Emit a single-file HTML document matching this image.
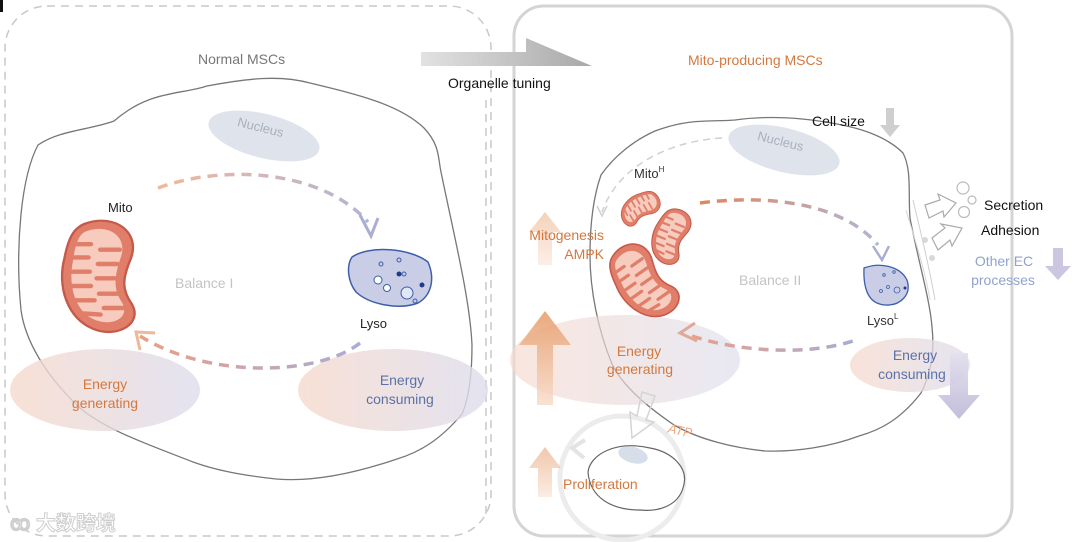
<!DOCTYPE html>
<html><head><meta charset="utf-8"><style>
html,body{margin:0;padding:0;background:#fff;width:1080px;height:542px;overflow:hidden}
text{font-family:"Liberation Sans","Noto Sans CJK SC",sans-serif}
</style></head><body>
<svg width="1080" height="542" viewBox="0 0 1080 542" xmlns="http://www.w3.org/2000/svg">
<defs>
<linearGradient id="eg" x1="0" x2="1"><stop offset="0" stop-color="#f6d9cc"/><stop offset="1" stop-color="#dcdcec"/></linearGradient>
<linearGradient id="ar" x1="0" x2="1"><stop offset="0" stop-color="#e2e2e2"/><stop offset="1" stop-color="#a8a8a8"/></linearGradient>
<linearGradient id="ou" x1="0" y1="0" x2="0" y2="1"><stop offset="0" stop-color="#e69a66"/><stop offset="1" stop-color="#f8dccb"/></linearGradient>
<linearGradient id="pd" x1="0" y1="0" x2="0" y2="1"><stop offset="0" stop-color="#e4e0ee"/><stop offset="1" stop-color="#bcb6d6"/></linearGradient>
<linearGradient id="dash1" x1="0" x2="1"><stop offset="0" stop-color="#f0b89a"/><stop offset="1" stop-color="#b4b4d6"/></linearGradient>
<linearGradient id="dash2" x1="0" x2="1"><stop offset="0" stop-color="#e8a088"/><stop offset="1" stop-color="#a8acd4"/></linearGradient>
<linearGradient id="dash3" x1="0" x2="1"><stop offset="0" stop-color="#e0875a"/><stop offset="1" stop-color="#b4b4d6"/></linearGradient>
<g id="mito">
<path d="M20,3 C45,-6 66,12 57,36 C51,52 49,62 58,76 C68,94 46,108 26,99 C4,89 -4,60 2,35 C5,18 9,7 20,3 Z" fill="#e07e6a" stroke="#c65a4a" stroke-width="2"/>
<path d="M21,10 C40,3 55,16 49,34 C44,50 42,62 50,75 C57,88 43,97 28,91 C11,84 5,60 9,38 C11,22 14,12 21,10 Z" fill="#f7cbbd"/>
<g stroke="#e07e6a" stroke-width="4" stroke-linecap="round">
<line x1="9" y1="22" x2="24" y2="22"/><line x1="48" y1="27" x2="32" y2="27"/>
<line x1="7" y1="34" x2="22" y2="34"/><line x1="46" y1="40" x2="30" y2="40"/>
<line x1="7" y1="47" x2="23" y2="47"/><line x1="44" y1="53" x2="29" y2="53"/>
<line x1="8" y1="60" x2="24" y2="60"/><line x1="46" y1="67" x2="31" y2="67"/>
<line x1="11" y1="73" x2="27" y2="73"/><line x1="52" y1="80" x2="35" y2="80"/>
<line x1="18" y1="85" x2="32" y2="86"/>
</g>
</g>
</defs>

<rect x="5" y="6" width="486" height="530" rx="42" fill="none" stroke="#c8c8c8" stroke-width="1.5" stroke-dasharray="8,6"/>
<rect x="514" y="6" width="498" height="530" rx="30" fill="none" stroke="#d4d4d4" stroke-width="3"/>

<path d="M421,52 L526,52 L526,38 L592,66 L421,66 Z" fill="url(#ar)"/>
<text x="448" y="88" font-size="14" fill="#111">Organelle tuning</text>
<line x1="486" y1="100" x2="486" y2="520" stroke="#c8c8c8" stroke-width="1.5" stroke-dasharray="8,6"/>

<text x="198" y="64" font-size="14" fill="#777">Normal MSCs</text>

<path d="M114,121 C150,90 180,95 207,86 C250,78 280,75 310,83 C360,95 400,105 424,128 C440,145 438,158 441,172 C455,240 470,300 472,345 C472,380 468,400 462,414 C440,440 420,452 397,459 C350,475 310,482 276,479 C240,475 215,470 193,462 C150,445 105,430 79,407 C45,375 25,340 21,310 C18,280 18,245 21,214 C24,185 30,160 38,145 C60,130 90,130 114,121 Z" fill="#fff" stroke="#777" stroke-width="1.3"/>
<ellipse cx="264" cy="136" rx="57" ry="22" transform="rotate(14 264 136)" fill="#dfe4ec"/>
<text x="237" y="132" font-size="13" fill="#a9b0bd" transform="rotate(14 262 128)">Nucleus</text>
<ellipse cx="105" cy="390" rx="95" ry="41" fill="url(#eg)" opacity="0.8"/>
<ellipse cx="393" cy="390" rx="95" ry="41" fill="url(#eg)" opacity="0.8"/>
<text x="105" y="389" font-size="14" fill="#d4783e" text-anchor="middle">Energy</text>
<text x="105" y="408" font-size="14" fill="#d4783e" text-anchor="middle">generating</text>
<text x="402" y="385" font-size="14" fill="#5b72a8" text-anchor="middle">Energy</text>
<text x="400" y="404" font-size="14" fill="#5b72a8" text-anchor="middle">consuming</text>
<text x="108" y="212" font-size="13" fill="#222">Mito</text>
<use href="#mito" transform="translate(62,220) scale(1.2,1.1)"/>
<text x="175" y="288" font-size="14" fill="#c4c4c4">Balance I</text>
<path d="M352,257 C370,245 410,248 428,262 C435,278 432,295 418,303 C400,310 370,305 356,292 C348,282 346,266 352,257 Z" fill="#c9cde6" stroke="#3d5ea8" stroke-width="1.5"/>
<g fill="none" stroke="#3d5ea8" stroke-width="1"><circle cx="378" cy="280" r="4" fill="#fff"/><circle cx="387" cy="288" r="3.5" fill="#fff"/><circle cx="407" cy="293" r="6" fill="#e0e8f5"/><circle cx="399" cy="260" r="2"/><circle cx="381" cy="264" r="2"/><circle cx="404" cy="274" r="2"/><circle cx="415" cy="301" r="2"/></g>
<circle cx="399" cy="274" r="2.5" fill="#1e3a8a"/><circle cx="422" cy="285" r="2.5" fill="#1e3a8a"/>
<text x="360" y="328" font-size="13" fill="#222">Lyso</text>
<path d="M158,188 C220,165 320,168 368,222" fill="none" stroke="url(#dash1)" stroke-width="3.5" stroke-dasharray="10,7"/>
<path d="M360,215 L371,236 L378,218" fill="none" stroke="#aaaed2" stroke-width="3"/>
<path d="M360,343 C320,375 210,380 140,336" fill="none" stroke="url(#dash2)" stroke-width="3.5" stroke-dasharray="10,7"/>
<path d="M140,350 L136,332 L155,333" fill="none" stroke="#efb898" stroke-width="3"/>

<text x="688" y="65" font-size="14" fill="#d4783e">Mito-producing MSCs</text>
<circle cx="622" cy="478" r="62" fill="none" stroke="#ececec" stroke-width="5"/>
<path d="M585,440 L572,448 L584,458" fill="none" stroke="#e4e4e4" stroke-width="4"/>
<path d="M588,472 C590,455 615,440 650,448 C672,452 690,468 683,488 C678,505 660,512 640,510 C612,510 590,498 588,472 Z" fill="#fff" stroke="#666" stroke-width="1.2"/>
<ellipse cx="633" cy="455" rx="15" ry="8" transform="rotate(15 633 455)" fill="#d5dee9"/>
<text x="563" y="489" font-size="14" fill="#d4783e">Proliferation</text>
<path d="M538,497 L538,468 L529,468 L545,447 L561,468 L552,468 L552,497 Z" fill="url(#ou)" opacity="0.55"/>

<path d="M655,131 C690,118 710,122 735,120 C770,115 805,118 837,124 C870,130 890,140 903,153 C912,170 908,195 910,218 C918,260 930,300 932,327 C935,355 930,375 921,393 C900,420 880,430 859,436 C830,447 795,452 765,451 C735,448 700,440 674,425 C645,405 622,385 612,364 C598,330 590,290 590,255 C590,220 594,195 601,175 C615,155 635,140 655,131 Z" fill="#fff" stroke="#777" stroke-width="1.3"/>
<ellipse cx="625" cy="360" rx="115" ry="45" fill="url(#eg)" opacity="0.65"/>
<ellipse cx="910" cy="365" rx="60" ry="27" fill="url(#eg)" opacity="0.75"/>
<ellipse cx="784" cy="150" rx="57" ry="22" transform="rotate(14 784 150)" fill="#dfe4ec"/>
<text x="757" y="146" font-size="13" fill="#a9b0bd" transform="rotate(14 782 142)">Nucleus</text>
<path d="M722,138 C680,140 620,160 602,212" fill="none" stroke="#d0d0d0" stroke-width="1.5" stroke-dasharray="7,5"/>
<path d="M597,206 L602,216 L607,206" fill="none" stroke="#d0d0d0" stroke-width="1.5"/>
<text x="634" y="178" font-size="13" fill="#333">Mito<tspan font-size="8" dy="-6">H</tspan></text>
<use href="#mito" transform="translate(640,207) rotate(60) scale(0.42) translate(-30,-50)"/>
<use href="#mito" transform="translate(670,235) rotate(22) scale(0.55) translate(-30,-50)"/>
<use href="#mito" transform="translate(641,282) rotate(-35) scale(0.8) translate(-30,-50)"/>
<text x="739" y="285" font-size="14" fill="#c4c4c4">Balance II</text>
<path d="M700,203 C760,195 840,200 878,245" fill="none" stroke="url(#dash3)" stroke-width="3.5" stroke-dasharray="10,7"/>
<path d="M873,246 L882,260 L889,246" fill="none" stroke="#aaaed2" stroke-width="2.5"/>
<path d="M864,268 C880,262 900,266 907,280 C912,295 900,306 885,305 C870,304 863,292 864,268 Z" fill="#c9cde6" stroke="#3d5ea8" stroke-width="1.3"/>
<g fill="none" stroke="#3d5ea8" stroke-width="0.8"><circle cx="884" cy="275" r="1.3"/><circle cx="894" cy="272" r="1.3"/><circle cx="888" cy="287" r="1.5"/><circle cx="897" cy="290" r="3"/><circle cx="881" cy="291" r="1.5"/></g>
<circle cx="905" cy="288" r="1.5" fill="#1e3a8a"/>
<text x="867" y="325" font-size="13" fill="#333">Lyso<tspan font-size="8" dy="-6">L</tspan></text>
<path d="M856,340 C810,356 740,352 692,336" fill="none" stroke="url(#dash2)" stroke-width="3.5" stroke-dasharray="10,7" transform="rotate(180 774 346) scale(1,1)" opacity="0"/>
<path d="M692,336 C740,352 810,356 856,340" fill="none" stroke="url(#dash2)" stroke-width="3.5" stroke-dasharray="10,7"/>
<path d="M695,323 L680,333 L697,341" fill="none" stroke="#e0a898" stroke-width="3"/>
<text x="639" y="356" font-size="14" fill="#d4783e" text-anchor="middle">Energy</text>
<text x="640" y="374" font-size="14" fill="#d4783e" text-anchor="middle">generating</text>
<text x="915" y="360" font-size="14" fill="#5b72a8" text-anchor="middle">Energy</text>
<text x="912" y="379" font-size="14" fill="#5b72a8" text-anchor="middle">consuming</text>
<path d="M642,392 L655,396 L646,420 L654,422 L632,438 L630,412 L637,416 Z" fill="none" stroke="#d4d4d4" stroke-width="1.5"/>
<text x="668" y="435" font-size="13" font-style="italic" fill="#eea880" transform="rotate(12 680 430)">ATP</text>
<path d="M537,405 L537,345 L519,345 L545,311 L571,345 L553,345 L553,405 Z" fill="url(#ou)" opacity="0.85"/>
<path d="M538,265 L538,232 L529,232 L545,212 L561,232 L552,232 L552,265 Z" fill="url(#ou)" opacity="0.45"/>
<text x="604" y="240" font-size="14" fill="#d4783e" text-anchor="end">Mitogenesis</text>
<text x="604" y="259" font-size="14" fill="#d4783e" text-anchor="end">AMPK</text>
<path d="M950,353 L968,353 L968,395 L980,395 L959,419 L938,395 L950,395 Z" fill="url(#pd)" opacity="0.9"/>
<text x="812" y="126" font-size="14" fill="#111">Cell size</text>
<path d="M886,108 L894,108 L894,125 L900,125 L890,137 L880,125 L886,125 Z" fill="#cfcfcf"/>
<path d="M913,200 C920,230 928,260 935,300" fill="none" stroke="#cfcfcf" stroke-width="1"/>
<path d="M906,210 C915,240 925,270 930,300" fill="none" stroke="#d8d8d8" stroke-width="1"/>
<circle cx="925" cy="240" r="3" fill="#d8d8d8"/><circle cx="932" cy="258" r="3" fill="#d8d8d8"/>
<circle cx="963" cy="188" r="6" fill="none" stroke="#bbb" stroke-width="1.2"/>
<circle cx="972" cy="200" r="4" fill="none" stroke="#bbb" stroke-width="1.2"/>
<circle cx="964" cy="212" r="5.5" fill="none" stroke="#bbb" stroke-width="1.2"/>
<path d="M925,205 L940,200 L938,194 L956,203 L944,217 L943,211 L929,218 Z" fill="#fff" stroke="#aaa" stroke-width="1.2"/>
<path d="M932,238 L945,228 L941,224 L962,228 L952,246 L950,240 L938,250 Z" fill="#fff" stroke="#aaa" stroke-width="1.2"/>
<text x="984" y="210" font-size="14" fill="#111">Secretion</text>
<text x="981" y="235" font-size="14" fill="#111">Adhesion</text>
<text x="1004" y="266" font-size="14" fill="#8fa3cf" text-anchor="middle">Other EC</text>
<text x="1003" y="285" font-size="14" fill="#8fa3cf" text-anchor="middle">processes</text>
<path d="M1053,248 L1063,248 L1063,266 L1071,266 L1058,280 L1045,266 L1053,266 Z" fill="#ccc6e0"/>
<text x="10" y="530" font-size="20" fill="#fff" stroke="#cfcfcf" stroke-width="1" font-weight="bold">ꝏ 大数跨境</text>
<rect x="0" y="0" width="3" height="12" fill="#111"/>
</svg>
</body></html>
